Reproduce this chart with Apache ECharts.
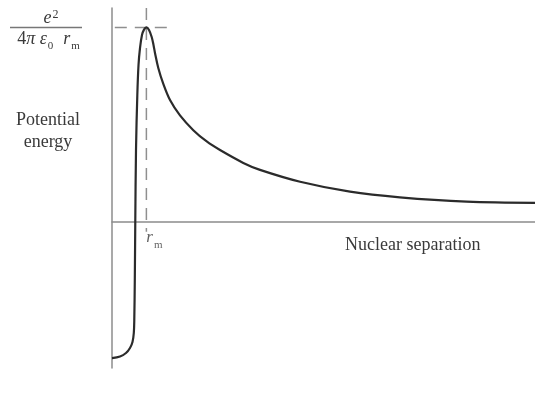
<!DOCTYPE html>
<html>
<head>
<meta charset="utf-8">
<title>Potential energy vs nuclear separation</title>
<script src="https://cdn.jsdelivr.net/npm/echarts@6/dist/echarts.min.js"></script>
<style>
  html, body { margin: 0; padding: 0; background: #ffffff; }
  #chart { width: 535px; height: 396px; }
</style>
</head>
<body>
<div id="chart"></div>
<script>
// Separation in units of r_m, energy in units of e^2 / (4 pi eps0 r_m)
const separation = [0, 0.233, 0.407, 0.523, 0.596, 0.634, 0.648, 0.663, 0.677, 0.698, 0.736, 0.771, 0.814, 0.872, 0.931, 1.0, 1.076, 1.154, 1.207, 1.25, 1.346, 1.492, 1.687, 1.977, 2.364, 2.754, 3.141, 3.818, 4.304, 5.47, 6.92, 8.37, 10.31, 12.3];
const energy = [-0.699, -0.691, -0.673, -0.647, -0.616, -0.570, -0.503, -0.298, 0, 0.370, 0.652, 0.807, 0.894, 0.961, 0.989, 1.0, 0.987, 0.951, 0.910, 0.869, 0.792, 0.710, 0.627, 0.548, 0.472, 0.414, 0.370, 0.304, 0.268, 0.207, 0.156, 0.127, 0.105, 0.099];

// Barrier position and height
const rm = 1;
const peakEnergy = 1;

// Reference guides
const rmGuide = [[rm, 1.1], [rm, -0.05]];
const peakGuide = [[-0.5, peakEnergy], [1.6, peakEnergy]];

const serif = "'Liberation Serif', 'DejaVu Serif', serif";
const ink = '#3a3a3a';
const axisGray = '#8c8c8c';

const chart = echarts.init(document.getElementById('chart'), null, { renderer: 'canvas' });

chart.setOption({
  backgroundColor: '#ffffff',
  animation: false,
  grid: { left: 112, right: 0, top: 8, bottom: 28, containLabel: false },
  xAxis: {
    type: 'value',
    min: 0,
    max: 12.3,
    axisLine: { show: true, onZero: true, lineStyle: { color: axisGray, width: 1.5 } },
    axisTick: { show: false },
    axisLabel: { show: false },
    splitLine: { show: false }
  },
  yAxis: {
    type: 'value',
    min: -0.75,
    max: 1.1,
    axisLine: { show: true, onZero: false, lineStyle: { color: axisGray, width: 1.5 } },
    axisTick: { show: false },
    axisLabel: { show: false },
    splitLine: { show: false }
  },
  series: [
    {
      name: 'Potential energy',
      type: 'line',
      data: separation.map((x, i) => [x, energy[i]]),
      showSymbol: false,
      smooth: 0.35,
      lineStyle: { color: '#2b2b2b', width: 2.2 },
      z: 3
    },
    {
      name: 'r_m guide',
      type: 'line',
      data: rmGuide,
      showSymbol: false,
      clip: false,
      lineStyle: { color: '#8f8f8f', width: 1.5, type: [12, 8] },
      z: 2
    },
    {
      name: 'peak guide',
      type: 'line',
      data: peakGuide,
      showSymbol: false,
      clip: false,
      lineStyle: { color: '#8f8f8f', width: 1.5, type: [12, 8] },
      z: 2
    },
    {
      name: 'r_m label',
      type: 'scatter',
      data: [[rm, 0]],
      symbolSize: 0,
      silent: true,
      label: {
        show: true,
        position: 'bottom',
        distance: 7,
        offset: [8, 0],
        formatter: () => '{r|r}{m|m}',
        rich: {
          r: { fontFamily: serif, fontStyle: 'italic', fontSize: 17, color: ink, lineHeight: 18, verticalAlign: 'top' },
          m: { fontFamily: serif, fontSize: 11, color: ink, lineHeight: 11, verticalAlign: 'bottom', padding: [0, 0, -4, 1] }
        }
      }
    }
  ],
  graphic: [
    {
      type: 'text',
      x: 48, y: 131,
      style: {
        text: 'Potential\nenergy',
        fontFamily: serif, fontSize: 18, lineHeight: 22,
        fill: ink, align: 'center', verticalAlign: 'middle'
      }
    },
    {
      type: 'text',
      x: 345, y: 245,
      style: {
        text: 'Nuclear separation',
        fontFamily: serif, fontSize: 18,
        fill: ink, align: 'left', verticalAlign: 'middle'
      }
    },
    {
      type: 'text',
      x: 51, y: 18,
      style: {
        text: '{e|e}{s|2}',
        align: 'center', verticalAlign: 'middle',
        rich: {
          e: { fontFamily: serif, fontStyle: 'italic', fontSize: 18, fill: ink, lineHeight: 18, verticalAlign: 'bottom' },
          s: { fontFamily: serif, fontSize: 12, fill: ink, lineHeight: 12, verticalAlign: 'top', padding: [0, 0, 5, 1] }
        }
      }
    },
    {
      type: 'line',
      shape: { x1: 10, y1: 27.5, x2: 82, y2: 27.5 },
      style: { stroke: '#777777', lineWidth: 1.3 }
    },
    {
      type: 'text',
      x: 49, y: 39,
      style: {
        text: '{n|4}{i|\u03c0 \u03b5}{b|0}{n|  }{i|r}{b|m}',
        align: 'center', verticalAlign: 'middle',
        rich: {
          n: { fontFamily: serif, fontSize: 18, fill: ink, lineHeight: 18, verticalAlign: 'top' },
          i: { fontFamily: serif, fontStyle: 'italic', fontSize: 18, fill: ink, lineHeight: 18, verticalAlign: 'top' },
          b: { fontFamily: serif, fontSize: 11, fill: ink, lineHeight: 11, verticalAlign: 'bottom', padding: [0, 1, -4, 1] }
        }
      }
    }
  ]
});
</script>
</body>
</html>
